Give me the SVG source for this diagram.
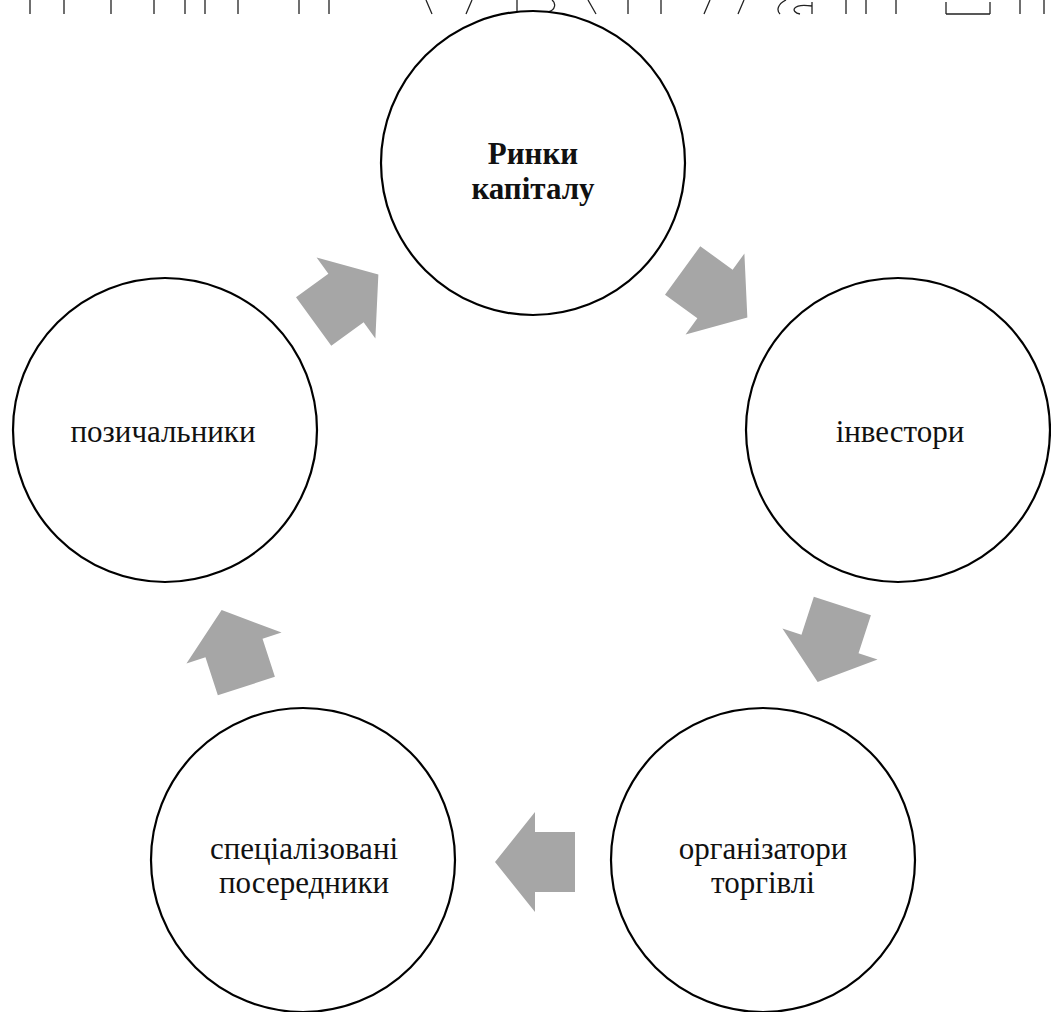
<svg xmlns="http://www.w3.org/2000/svg" width="1051" height="1012" viewBox="0 0 1051 1012">
  <style>
    .node { fill: #ffffff; stroke: #000000; stroke-width: 2.2; }
    .lbl { font-family: "Liberation Serif", "Times New Roman", serif; font-size: 31px; fill: #111111; text-anchor: middle; }
    .bold { font-weight: bold; }
    .arrow { fill: #a6a6a6; }
    .frag { stroke: #222222; stroke-width: 1.3; fill: none; }
  </style>
  <defs>
    <polygon id="blockArrow" points="-40,-30 0,-30 0,-50 40,0 0,50 0,30 -40,30"/>
  </defs>
  <rect x="0" y="0" width="1051" height="1012" fill="#ffffff"/>

  <g id="scan-fragments">
    <path class="frag" d="M30 0V14 M64 0V14 M111 0V14 M154 0V14 M185 0V14 M205 0V14 M238 0V14 M299 0V14 M329 0V14 M426 0L432 14 M472 0L466 14 M517 0V12 M517 12H548 M548 12C556 10 556 3 552 0 M588 0L596 14 M628 0V14 M661 0V14 M710 0L704 14 M744 0L738 14 M786 0C778 4 776 10 780 14 M800 14C790 12 792 3 812 6 M812 2V14 M846 0V14 M866 0V14 M896 0V14 M946 2V14 M946 14H990 M990 2V14 M1020 0V14 M1044 0V14"/>
  </g>

  <g id="connectors">
    <use href="#blockArrow" class="arrow" transform="translate(346,298) rotate(-36)"/>
    <use href="#blockArrow" class="arrow" transform="translate(715,294) rotate(36)"/>
    <use href="#blockArrow" class="arrow" transform="translate(830,644) rotate(108)"/>
    <use href="#blockArrow" class="arrow" transform="translate(535,862) rotate(180)"/>
    <use href="#blockArrow" class="arrow" transform="translate(234,648) rotate(-108)"/>
  </g>

  <g id="node-rynky">
    <circle class="node" cx="533" cy="163" r="152"/>
    <text class="lbl bold" x="533" y="164">Ринки</text>
    <text class="lbl bold" x="533" y="199">капіталу</text>
  </g>

  <g id="node-investory">
    <circle class="node" cx="898" cy="430" r="152"/>
    <text class="lbl" x="900" y="442">інвестори</text>
  </g>

  <g id="node-organizatory">
    <circle class="node" cx="763" cy="860" r="152"/>
    <text class="lbl" x="763" y="859">організатори</text>
    <text class="lbl" x="763" y="893">торгівлі</text>
  </g>

  <g id="node-posered">
    <circle class="node" cx="303" cy="860" r="152"/>
    <text class="lbl" x="304" y="859">спеціалізовані</text>
    <text class="lbl" x="304" y="893">посередники</text>
  </g>

  <g id="node-pozychalnyky">
    <circle class="node" cx="165" cy="430" r="152"/>
    <text class="lbl" x="163" y="442">позичальники</text>
  </g>
</svg>
